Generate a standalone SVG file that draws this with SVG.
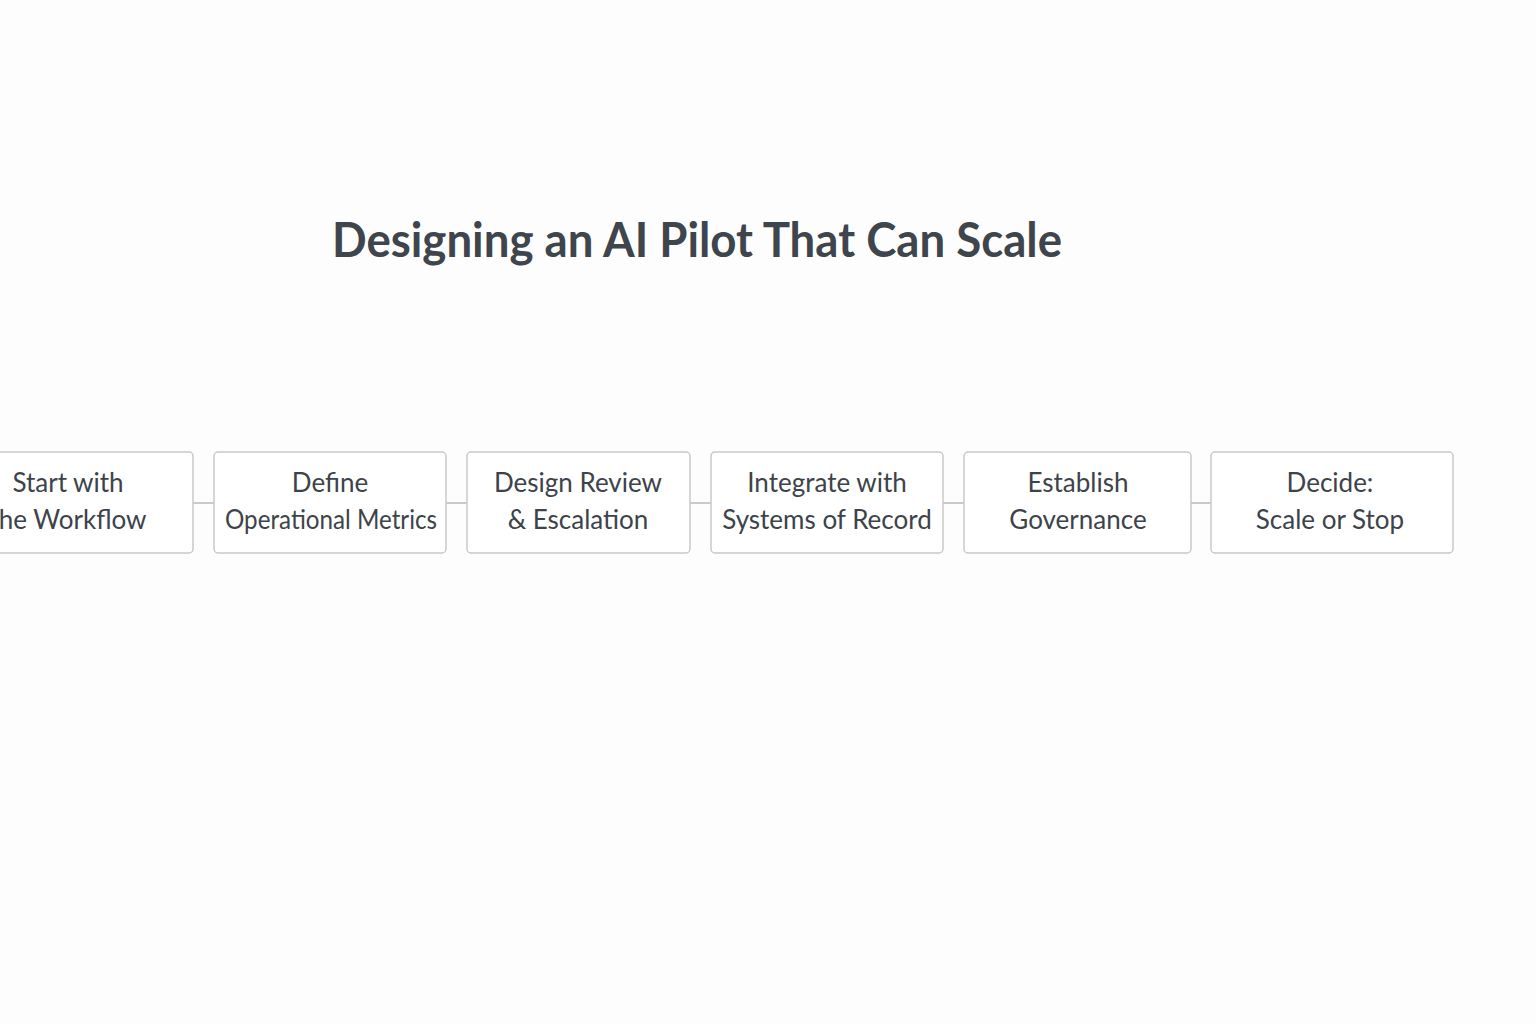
<svg xmlns="http://www.w3.org/2000/svg" width="1536" height="1024" viewBox="0 0 1536 1024">
<style>
.bg{fill:#fefdfd}
.title{font-family:Lato,"Open Sans","Liberation Sans",sans-serif;font-weight:700;font-size:48px;fill:#3f454c}
.box{fill:#ffffff;stroke:#c9c9c9;stroke-width:1.5}
.lbl{font-family:Lato,"Open Sans","Liberation Sans",sans-serif;font-size:26px;fill:#3d434a;text-anchor:middle}
.conn{stroke:#b8b8b8;stroke-width:1.5;fill:none}
</style>
<rect class="bg" x="0" y="0" width="1536" height="1024"/>
<text class="title" x="332" y="257" textLength="730" lengthAdjust="spacingAndGlyphs">Designing an AI Pilot That Can Scale</text>
<g id="connectors">
<line class="conn" x1="193" y1="503" x2="214" y2="503"/>
<line class="conn" x1="446" y1="503" x2="467" y2="503"/>
<line class="conn" x1="690" y1="503" x2="711" y2="503"/>
<line class="conn" x1="943" y1="503" x2="964" y2="503"/>
<line class="conn" x1="1191" y1="503" x2="1211" y2="503"/>
</g>
<g id="n1"><rect class="box" x="-40" y="452" width="233" height="101" rx="4"/><text class="lbl" x="68" y="492">Start with</text><text class="lbl" x="68" y="529">the Workflow</text></g>
<g id="n2"><rect class="box" x="214" y="452" width="232" height="101" rx="4"/><text class="lbl" x="330" y="492">Define</text><text class="lbl" x="331" y="529" textLength="212" lengthAdjust="spacingAndGlyphs">Operational Metrics</text></g>
<g id="n3"><rect class="box" x="467" y="452" width="223" height="101" rx="4"/><text class="lbl" x="578" y="492">Design Review</text><text class="lbl" x="578" y="529">&amp; Escalation</text></g>
<g id="n4"><rect class="box" x="711" y="452" width="232" height="101" rx="4"/><text class="lbl" x="827" y="492">Integrate with</text><text class="lbl" x="827" y="529">Systems of Record</text></g>
<g id="n5"><rect class="box" x="964" y="452" width="227" height="101" rx="4"/><text class="lbl" x="1078" y="492">Establish</text><text class="lbl" x="1078" y="529">Governance</text></g>
<g id="n6"><rect class="box" x="1211" y="452" width="242" height="101" rx="4"/><text class="lbl" x="1330" y="492">Decide:</text><text class="lbl" x="1330" y="529">Scale or Stop</text></g>
</svg>
